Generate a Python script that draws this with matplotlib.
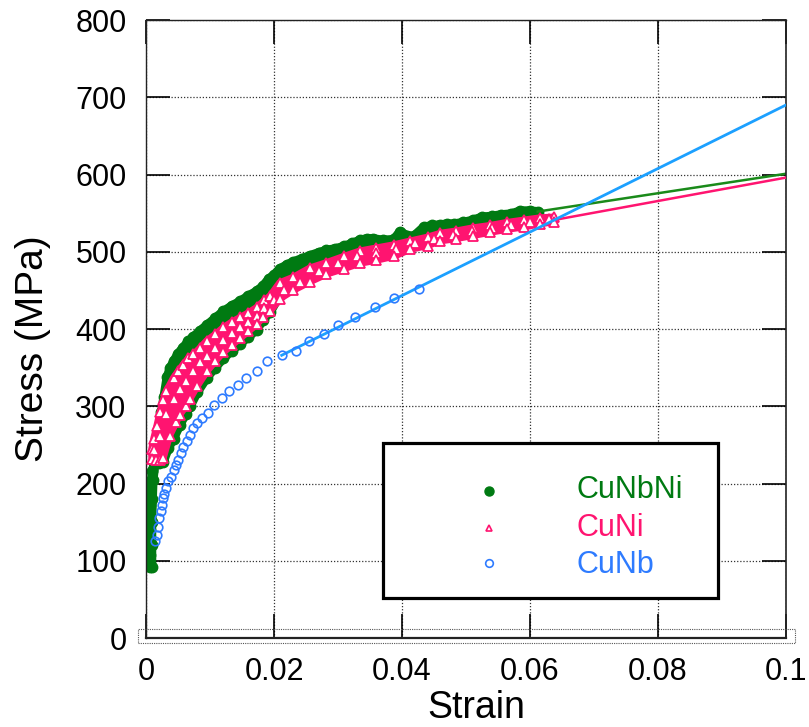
import matplotlib
matplotlib.use("Agg")
import matplotlib.pyplot as plt
from matplotlib.patches import Rectangle, Polygon

plt.rcParams['font.family'] = ['Liberation Sans', 'DejaVu Sans']

# ---------------- data ----------------
# CuNbNi: upper and lower edges of the dense cloud of measured points
cunbni_upper_strain = [0.0006, 0.0006, 0.0006, 0.0006, 0.0006, 0.0006, 0.0007, 0.0008, 0.0010,
                       0.0014, 0.0019, 0.0024, 0.0028, 0.0033, 0.0038, 0.0043, 0.0050, 0.0058,
                       0.0066, 0.0074, 0.0085, 0.0095, 0.0108, 0.0121, 0.0134, 0.0147, 0.0160,
                       0.0173, 0.0183, 0.0192, 0.0200, 0.0209, 0.0220, 0.0230, 0.0243, 0.0256,
                       0.0270, 0.0282, 0.0296, 0.0309, 0.0322, 0.0334, 0.0345, 0.0355, 0.0370,
                       0.0387, 0.0397, 0.0408, 0.0418, 0.0434, 0.0447, 0.0460, 0.0470, 0.0481,
                       0.0495, 0.0511, 0.0525, 0.0540, 0.0555, 0.0570, 0.0585, 0.0600, 0.0612]
cunbni_upper_stress = [92, 108, 124, 140, 156, 172, 188, 203, 216,
                       232, 262, 292, 312, 338, 350, 358, 368, 376,
                       384, 390, 398, 405, 414, 423, 430, 436, 443,
                       449, 456, 465, 470, 478, 483, 487, 491, 495,
                       499, 502, 504, 507, 511, 515, 517, 517, 515,
                       516, 526, 521, 520, 532, 534, 535, 536, 536,
                       538, 541, 545, 546, 548, 549, 553, 553, 552]
cunbni_lower_strain = [0.0009, 0.0009, 0.0009, 0.0010, 0.0011, 0.0014, 0.0020, 0.0027, 0.0035,
                       0.0043, 0.0053, 0.0062, 0.0069, 0.0080, 0.0095, 0.0108, 0.0121, 0.0134,
                       0.0147, 0.0160, 0.0173, 0.0183, 0.0194, 0.0209, 0.0230, 0.0256, 0.0282,
                       0.0309, 0.0334, 0.0360, 0.0387, 0.0413, 0.0440, 0.0460, 0.0485, 0.0511,
                       0.0537, 0.0564, 0.0590, 0.0612]
cunbni_lower_stress = [92, 120, 150, 180, 205, 226, 226, 228, 246,
                       258, 276, 290, 300, 318, 337, 350, 362, 372,
                       381, 390, 399, 412, 422, 444, 455, 466, 476,
                       483, 490, 494, 499, 508, 513, 519, 522, 526,
                       530, 534, 537, 540]

# CuNi: upper, middle and lower rows of the measured points
cuni_upper_strain = [0.0009, 0.0012, 0.0017, 0.0022, 0.0027, 0.0032, 0.0043, 0.0050, 0.0058,
                     0.0066, 0.0074, 0.0085, 0.0095, 0.0108, 0.0121, 0.0134, 0.0147, 0.0160,
                     0.0173, 0.0185, 0.0194, 0.0209, 0.0230, 0.0256, 0.0282, 0.0309, 0.0334,
                     0.0360, 0.0387, 0.0413, 0.0440, 0.0460, 0.0485, 0.0511, 0.0537, 0.0564,
                     0.0590, 0.0616, 0.0637]
cuni_upper_stress = [245, 258, 275, 293, 308, 320, 337, 345, 354,
                     362, 367, 376, 385, 393, 402, 409, 415, 421,
                     428, 437, 443, 460, 467, 479, 486, 494, 501,
                     505, 509, 514, 519, 524, 527, 531, 534, 538,
                     541, 544, 545]
cuni_mid_strain = [0.0012, 0.0022, 0.0032, 0.0043, 0.0053, 0.0062, 0.0074, 0.0085, 0.0095,
                   0.0108, 0.0121, 0.0134, 0.0147, 0.0160, 0.0173, 0.0185, 0.0200, 0.0215,
                   0.0240, 0.0270, 0.0300, 0.0330, 0.0360, 0.0390, 0.0420, 0.0450, 0.0480,
                   0.0510, 0.0540, 0.0570, 0.0600, 0.0630]
cuni_mid_stress = [244, 262, 290, 310, 322, 333, 345, 357, 365,
                   375, 386, 395, 402, 409, 417, 427, 437, 450,
                   461, 475, 486, 494, 499, 503, 511, 517, 522,
                   527, 531, 534, 538, 542]
cuni_lower_strain = [0.0009, 0.0015, 0.0022, 0.0027, 0.0037, 0.0047, 0.0053, 0.0062, 0.0069,
                     0.0080, 0.0095, 0.0108, 0.0121, 0.0134, 0.0147, 0.0160, 0.0173, 0.0183,
                     0.0194, 0.0209, 0.0230, 0.0256, 0.0282, 0.0309, 0.0334, 0.0360, 0.0387,
                     0.0413, 0.0440, 0.0460, 0.0485, 0.0511, 0.0537, 0.0564, 0.0590, 0.0616,
                     0.0637]
cuni_lower_stress = [232, 231, 231, 233, 262, 279, 289, 300, 310,
                     326, 345, 358, 370, 379, 388, 397, 406, 415,
                     423, 439, 450, 461, 471, 478, 485, 489, 494,
                     503, 508, 514, 517, 521, 525, 529, 532, 536,
                     539]

# CuNb measured points
cunb_strain = [0.0014, 0.0017, 0.0019, 0.0021, 0.0023, 0.0025, 0.0026, 0.0028, 0.0031,
               0.0035, 0.0039, 0.0043, 0.0047, 0.0050, 0.0054, 0.0058, 0.0064, 0.0069,
               0.0074, 0.0080, 0.0087, 0.0097, 0.0106, 0.0118, 0.0129, 0.0143, 0.0156,
               0.0173, 0.0189, 0.0212, 0.0234, 0.0255, 0.0278, 0.0300, 0.0327, 0.0358,
               0.0388, 0.0427]
cunb_stress = [125, 133, 144, 155, 164, 172, 181, 187, 194,
               203, 209, 218, 224, 231, 239, 247, 255, 263,
               272, 278, 285, 291, 301, 311, 320, 328, 336,
               346, 358, 366, 372, 384, 394, 405, 415, 428,
               440, 452]

# extrapolated linear hardening lines
cunbni_fit_strain = [0.0612, 0.1]
cunbni_fit_stress = [552, 601]
cuni_fit_strain = [0.0637, 0.1]
cuni_fit_stress = [541, 596]
cunb_fit_strain = [0.0212, 0.1]
cunb_fit_stress = [366, 690]

series_names = ['CuNbNi', 'CuNi', 'CuNb']

x_ticks = [0, 0.02, 0.04, 0.06, 0.08, 0.1]
x_tick_labels = ['0', '0.02', '0.04', '0.06', '0.08', '0.1']
y_ticks = [0, 100, 200, 300, 400, 500, 600, 700, 800]

# ---------------- styling ----------------
GREEN = '#007A12'
GREEN_LINE = '#1A8A1A'
PINK = '#FF1470'
BLUE = '#2E7BFF'
BLUE_LINE = '#1CA0FF'

W, H = 809, 727
fig = plt.figure(figsize=(W / 100, H / 100), dpi=100)


def fx(px):
    return px / W


def fy(py):
    return (H - py) / H


ax = fig.add_axes([fx(146), fy(638), (786 - 146) / W, (638 - 20) / H])
ax.set_xlim(0, 0.1)
ax.set_ylim(0, 800)

# CuNbNi cloud
g_poly = list(zip(cunbni_upper_strain, cunbni_upper_stress)) + \
    list(zip(cunbni_lower_strain[::-1], cunbni_lower_stress[::-1]))
ax.add_patch(Polygon(g_poly, closed=True, facecolor=GREEN, edgecolor=GREEN,
                     linewidth=6.5, joinstyle='round', zorder=2))
for xs, ys in ((cunbni_upper_strain, cunbni_upper_stress),
               (cunbni_lower_strain, cunbni_lower_stress)):
    ax.plot(xs, ys, linestyle='none', marker='o', markersize=7.5,
            color=GREEN, zorder=2.1)
ax.plot(cunbni_fit_strain, cunbni_fit_stress, color=GREEN_LINE, lw=1.8, zorder=2.2)

# CuNi cloud
p_poly = list(zip(cuni_upper_strain, cuni_upper_stress)) + \
    list(zip(cuni_lower_strain[::-1], cuni_lower_stress[::-1]))
ax.add_patch(Polygon(p_poly, closed=True, facecolor=PINK, edgecolor=PINK,
                     linewidth=5, joinstyle='round', zorder=3))
for xs, ys in ((cuni_upper_strain, cuni_upper_stress),
               (cuni_mid_strain, cuni_mid_stress),
               (cuni_lower_strain, cuni_lower_stress)):
    ax.plot(xs, ys, linestyle='none', marker='^', markersize=6.5,
            markerfacecolor='white', markeredgecolor=PINK, markeredgewidth=1.3,
            zorder=3.1)
ax.plot(cuni_fit_strain, cuni_fit_stress, color=PINK, lw=1.8, zorder=3.2)

# CuNb
ax.plot(cunb_fit_strain, cunb_fit_stress, color=BLUE_LINE, lw=2.0, zorder=4)
ax.plot(cunb_strain, cunb_stress, linestyle='none', marker='o', markersize=6.2,
        markerfacecolor='none', markeredgecolor=BLUE, markeredgewidth=1.2, zorder=4.1)

# axes, ticks, grid
ax.set_xticks(x_ticks)
ax.set_xticklabels(x_tick_labels)
ax.set_yticks(y_ticks)
ax.tick_params(axis='both', direction='in', length=17, width=1.2, colors='black',
               top=True, right=True, labelsize=22)
ax.tick_params(axis='x', pad=14)
ax.tick_params(axis='y', pad=14)
ax.set_axisbelow(True)
ax.grid(True, linestyle=(0, (1, 1.5)), color='#333333', linewidth=0.9)
for side, lw in (('left', 1.0), ('top', 1.0), ('right', 1.2), ('bottom', 1.6)):
    ax.spines[side].set_linewidth(lw)
    ax.spines[side].set_color('#222222')

# dotted frame around the strain axis
fig.patches.append(Rectangle((fx(138), fy(643)), (795 - 138) / W, (643 - 629) / H,
                             transform=fig.transFigure, fill=False, edgecolor='#555555',
                             linestyle=(0, (1, 1)), linewidth=0.8, zorder=5))

# axis titles
fig.text(fx(476), fy(718), 'Strain', fontsize=27, ha='center', va='baseline')
fig.text(fx(43), fy(462), 'Stress (MPa)', fontsize=28, rotation=90,
         rotation_mode='anchor', ha='left', va='baseline')

# legend box
ax.add_patch(Rectangle((fx(383), fy(598)), (718 - 383) / W, (598 - 443) / H,
                       transform=fig.transFigure, facecolor='white', edgecolor='black',
                       linewidth=2.3, zorder=10, clip_on=False))
legend_rows = [(491, 498), (528, 536), (563, 573)]
legend_colors = [GREEN, PINK, BLUE]
legend_styles = [
    dict(marker='o', markersize=6.5, color=GREEN),
    dict(marker='^', markersize=5, markerfacecolor='white', markeredgecolor=PINK,
         markeredgewidth=1.2),
    dict(marker='o', markersize=5.5, markerfacecolor='white', markeredgecolor=BLUE,
         markeredgewidth=1.2),
]
for name, (my, ty), col, style in zip(series_names, legend_rows, legend_colors, legend_styles):
    ax.plot([fx(489)], [fy(my)], transform=fig.transFigure, linestyle='none',
            zorder=11, clip_on=False, **style)
    ax.text(fx(577), fy(ty), name, transform=fig.transFigure, color=col,
            fontsize=22, ha='left', va='baseline', zorder=11)

fig.savefig('out.png', dpi=100)
